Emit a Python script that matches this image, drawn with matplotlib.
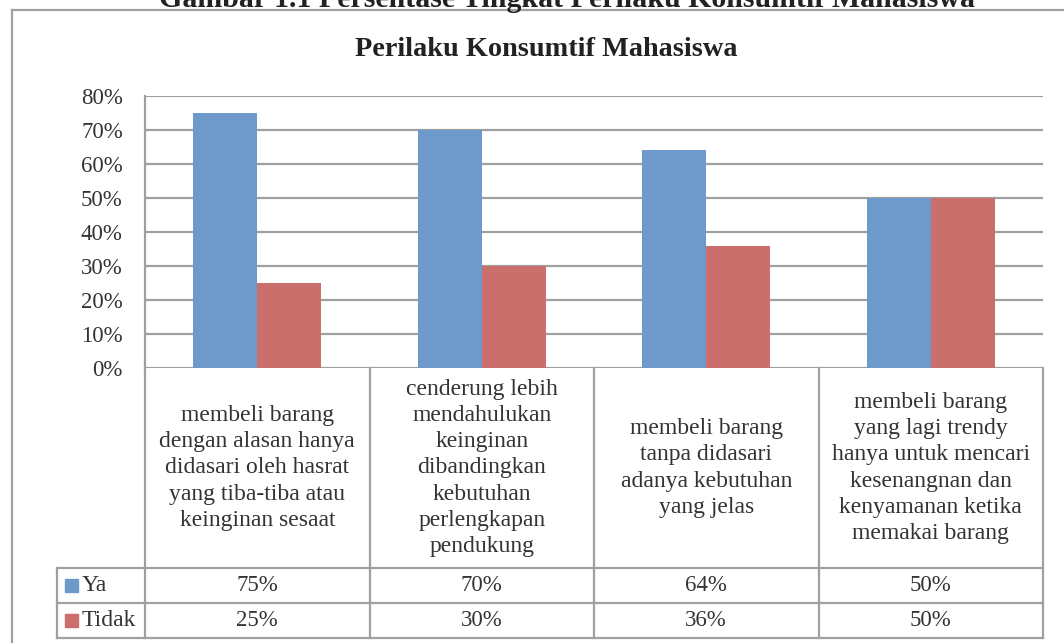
import matplotlib
matplotlib.use("Agg")
from matplotlib import pyplot as plt
from matplotlib.patches import Rectangle
import numpy as np

categories = [
    "membeli barang\ndengan alasan hanya\ndidasari oleh hasrat\nyang tiba-tiba atau\nkeinginan sesaat",
    "cenderung lebih\nmendahulukan\nkeinginan\ndibandingkan\nkebutuhan\nperlengkapan\npendukung",
    "membeli barang\ntanpa didasari\nadanya kebutuhan\nyang jelas",
    "membeli barang\nyang lagi trendy\nhanya untuk mencari\nkesenangnan dan\nkenyamanan ketika\nmemakai barang",
]
series_names = ["Ya", "Tidak"]
ya = [75, 70, 64, 50]
tidak = [25, 30, 36, 50]
colors = ["#6E99CB", "#CB6F6C"]

plt.rcParams['font.family'] = ['Liberation Serif', 'DejaVu Serif']
textcol = "#333333"
gridcol = "#A0A0A0"

W, H = 1064, 643
fig = plt.figure(figsize=(W / 100, H / 100), dpi=100)

def px(x0, y0, x1, y1):
    # pixel box (top-left origin) -> figure fraction rect
    return [x0 / W, 1 - y1 / H, (x1 - x0) / W, (y1 - y0) / H]

# outer frame (cut by the image on the right and bottom)
fig.add_artist(plt.Line2D([12 / W, 12 / W], [0, 1 - 10 / H], color=gridcol, lw=1.6))
fig.add_artist(plt.Line2D([12 / W, 1], [1 - 10 / H, 1 - 10 / H], color=gridcol, lw=1.6))

# caption cut off at top
fig.text(567 / W, 1 - 7 / H, "Gambar 1.1 Persentase Tingkat Perilaku Konsumtif Mahasiswa",
         ha='center', va='baseline', fontsize=21.5, fontweight='bold', color='#222222')

fig.text(546 / W, 1 - 50 / H, "Perilaku Konsumtif Mahasiswa", ha='center', va='center',
         fontsize=20.3, fontweight='bold', color='#222222')

# bar chart
ax = fig.add_axes(px(145, 96, 1043, 368))
x = np.arange(len(ya))
bw = 0.285
ax.bar(x - bw / 2, np.array(ya) / 100, bw, color=colors[0], zorder=3)
ax.bar(x + bw / 2, np.array(tidak) / 100, bw, color=colors[1], zorder=3)
ax.set_xlim(-0.5, 3.5)
ax.set_ylim(0, 0.8)
yt = np.arange(0, 0.81, 0.1)
ax.set_yticks(yt)
ax.set_yticklabels([f"{int(round(v * 100))}%" for v in yt], fontsize=16.5, color=textcol)
ax.tick_params(axis='y', length=0, pad=16)
ax.set_xticks([])
ax.grid(axis='y', color=gridcol, lw=1.6, zorder=0)
for s in ['top', 'right', 'bottom']:
    ax.spines[s].set_visible(False)
ax.spines['left'].set_color(gridcol)
ax.spines['left'].set_linewidth(1.6)
ax.patch.set_alpha(0)

# data table below
tab = fig.add_axes(px(57, 368, 1043, 638))
hx = -0.5 - 88 / 224.5
tab.set_xlim(hx, 3.5)
tab.set_ylim(0, 270)
tab.axis('off')
lk = dict(color=gridcol, lw=1.6, clip_on=False)
for xv in [-0.5, 0.5, 1.5, 2.5, 3.5]:
    tab.plot([xv, xv], [0, 270], **lk)
tab.plot([hx, hx], [0, 70], **lk)
for yv in [0, 35, 70]:
    tab.plot([hx, 3.5], [yv, yv], **lk)

for i, c in enumerate(categories):
    tab.text(i, 170, c, ha='center', va='center', fontsize=17, color=textcol,
             linespacing=1.33)
rows = [ya, tidak]
for r, (name, vals) in enumerate(zip(series_names, rows)):
    yc = 52.5 - 35 * r
    tab.add_patch(Rectangle((hx + 8 / 224.5, yc - 6.5), 13 / 224.5, 13,
                            color=colors[r], clip_on=False))
    tab.text(hx + 25 / 224.5, yc, name, ha='left', va='center', fontsize=17, color=textcol)
    for i, v in enumerate(vals):
        tab.text(i, yc, f"{v}%", ha='center', va='center', fontsize=16.5, color=textcol)

fig.savefig("out.png", dpi=100)
